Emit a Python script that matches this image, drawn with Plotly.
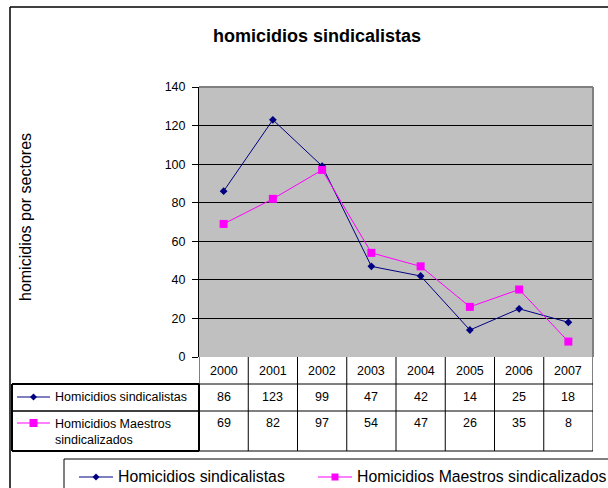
import plotly.graph_objects as go

# ---------------- data ----------------
years = ["2000", "2001", "2002", "2003", "2004", "2005", "2006", "2007"]
sindicalistas = [86, 123, 99, 47, 42, 14, 25, 18]
maestros = [69, 82, 97, 54, 47, 26, 35, 8]
series_names = ["Homicidios sindicalistas", "Homicidios Maestros sindicalizados"]
table_labels = ["Homicidios sindicalistas", "Homicidios Maestros<br>sindicalizados"]
y_ticks = [0, 20, 40, 60, 80, 100, 120, 140]
title_text = "homicidios sindicalistas"
y_title = "homicidios por sectores"

# ---------------- helpers ----------------
W, H = 608, 488
def px(x):
    return x / W
def py(y):
    return 1 - y / H

NAVY = "#000080"
MAGENTA = "#FF00FF"
FONT = "Arial, Liberation Sans, sans-serif"
TFS = 12.5  # table font size

fig = go.Figure()
fig.add_trace(go.Scatter(
    x=years, y=sindicalistas, name=series_names[0], mode="lines+markers",
    line=dict(color=NAVY, width=1),
    marker=dict(symbol="diamond", size=6, color=NAVY),
))
fig.add_trace(go.Scatter(
    x=years, y=maestros, name=series_names[1], mode="lines+markers",
    line=dict(color=MAGENTA, width=1),
    marker=dict(symbol="square", size=8, color=MAGENTA),
))

# plot area geometry (window pixels)
PL, PR, PT, PB = 199, 593, 87, 357
# table rows (window pixels)
R1, R2, R3 = 384, 411, 451
TL = 12

def hline(x0, x1, y, color="black", width=1):
    return dict(type="line", xref="paper", yref="paper",
                x0=px(x0), x1=px(x1), y0=py(y), y1=py(y),
                line=dict(color=color, width=width))

def vline(x, y0, y1, color="black", width=1):
    return dict(type="line", xref="paper", yref="paper",
                x0=px(x), x1=px(x), y0=py(y0), y1=py(y1),
                line=dict(color=color, width=width))

shapes = []
# outer chart frame (top and left edges; the rest lies outside the picture)
shapes.append(hline(10, W, 7, width=1.5))
shapes.append(vline(10, 7, H, width=1.5))
# plot border top/right gray
shapes.append(dict(type="line", xref="x domain", yref="y domain",
                   x0=0, x1=1, y0=1, y1=1, line=dict(color="#808080", width=2)))
shapes.append(dict(type="line", xref="x domain", yref="y domain",
                   x0=1, x1=1, y0=0, y1=1, line=dict(color="#808080", width=2)))

# table vertical lines at category boundaries
for i in range(len(years) + 1):
    shapes.append(dict(type="line", xref="x", yref="paper",
                       x0=i - 0.5, x1=i - 0.5, y0=py(PB), y1=py(R3),
                       line=dict(color="black", width=1)))
# table horizontal lines
for yy, w in [(R1, 2), (R2, 1.5), (R3, 2)]:
    shapes.append(hline(TL, PL, yy, width=w))
    shapes.append(dict(type="line", xref="x", yref="paper",
                       x0=-0.5, x1=len(years) - 0.5, y0=py(yy), y1=py(yy),
                       line=dict(color="black", width=1)))
# left/right border of label column
shapes.append(vline(TL, R1, R3, width=2))
shapes.append(vline(PL, R1, R3, width=2))

# small line+marker keys (table rows and bottom legend)
def key(x0, x1, ycen, color, symbol, r):
    out = [hline(x0, x1, ycen, color=color, width=1)]
    cx = (x0 + x1) / 2
    if symbol == "diamond":
        path = (f"M {px(cx)},{py(ycen-r)} L {px(cx+r)},{py(ycen)} "
                f"L {px(cx)},{py(ycen+r)} L {px(cx-r)},{py(ycen)} Z")
        out.append(dict(type="path", xref="paper", yref="paper", path=path,
                        fillcolor=color, line=dict(color=color, width=0)))
    else:
        out.append(dict(type="rect", xref="paper", yref="paper",
                        x0=px(cx - r), x1=px(cx + r), y0=py(ycen - r), y1=py(ycen + r),
                        fillcolor=color, line=dict(color=color, width=0)))
    return out

shapes += key(17, 50, 397, NAVY, "diamond", 3.5)
shapes += key(17, 50, 423, MAGENTA, "square", 4)

# bottom legend box (top and left edges) and its keys
shapes.append(hline(64, W, 459))
shapes.append(vline(64, 459, H))
shapes += key(79, 113, 477, NAVY, "diamond", 3.5)
shapes += key(318, 352, 477, MAGENTA, "square", 3.5)

def ann(text, x, y, xref="paper", size=TFS, bold=False, **kw):
    d = dict(text=("<b>" + text + "</b>") if bold else text,
             x=x, y=py(y), xref=xref, yref="paper", showarrow=False,
             xanchor=kw.pop("xanchor", "center"), yanchor=kw.pop("yanchor", "middle"),
             font=dict(size=size, color="black", family=FONT))
    d.update(kw)
    return d

annotations = []
annotations.append(ann(title_text, px(317), 36, size=18, bold=True))
annotations.append(ann(y_title, px(25), 217, size=16, textangle=-90))
# table contents (category index positions on the x axis)
for i, yr in enumerate(years):
    annotations.append(ann(yr, i, 371, xref="x"))
    annotations.append(ann(str(sindicalistas[i]), i, 397, xref="x"))
    annotations.append(ann(str(maestros[i]), i, 423, xref="x"))
annotations.append(ann(table_labels[0], px(53), 397, xanchor="left"))
annotations.append(ann(table_labels[1], px(53), 432, xanchor="left", align="left"))
# bottom legend texts
annotations.append(ann(series_names[0], px(116), 476, size=15.8, xanchor="left"))
annotations.append(ann(series_names[1], px(355), 476, size=15.8, xanchor="left"))

fig.update_layout(
    width=W, height=H,
    margin=dict(l=0, r=0, t=0, b=0),
    paper_bgcolor="white",
    plot_bgcolor="#C0C0C0",
    font=dict(family=FONT, color="black"),
    xaxis=dict(type="category", domain=[px(PL), px(PR)], range=[-0.5, len(years) - 0.5],
               showticklabels=False, showgrid=False, ticks="", showline=False,
               zeroline=False, automargin=False),
    yaxis=dict(domain=[py(PB), py(PT)], range=[0, 140], tickvals=y_ticks,
               showgrid=True, gridcolor="black", gridwidth=1,
               ticks="outside", ticklen=6, tickcolor="black", tickwidth=1,
               ticklabelstandoff=4,
               showline=True, linecolor="black", linewidth=1,
               tickfont=dict(size=12.5, color="black", family=FONT),
               zeroline=False, automargin=False),
    showlegend=False,
    shapes=shapes,
    annotations=annotations,
)

# remove the default page margin so the figure fills the window exactly
PAGE_FIX = ("document.documentElement.style.overflow='hidden';"
            "document.body.style.margin='0px';"
            "document.body.style.overflow='hidden';")

fig.write_html("out.html", config={"displayModeBar": False}, post_script=PAGE_FIX)
